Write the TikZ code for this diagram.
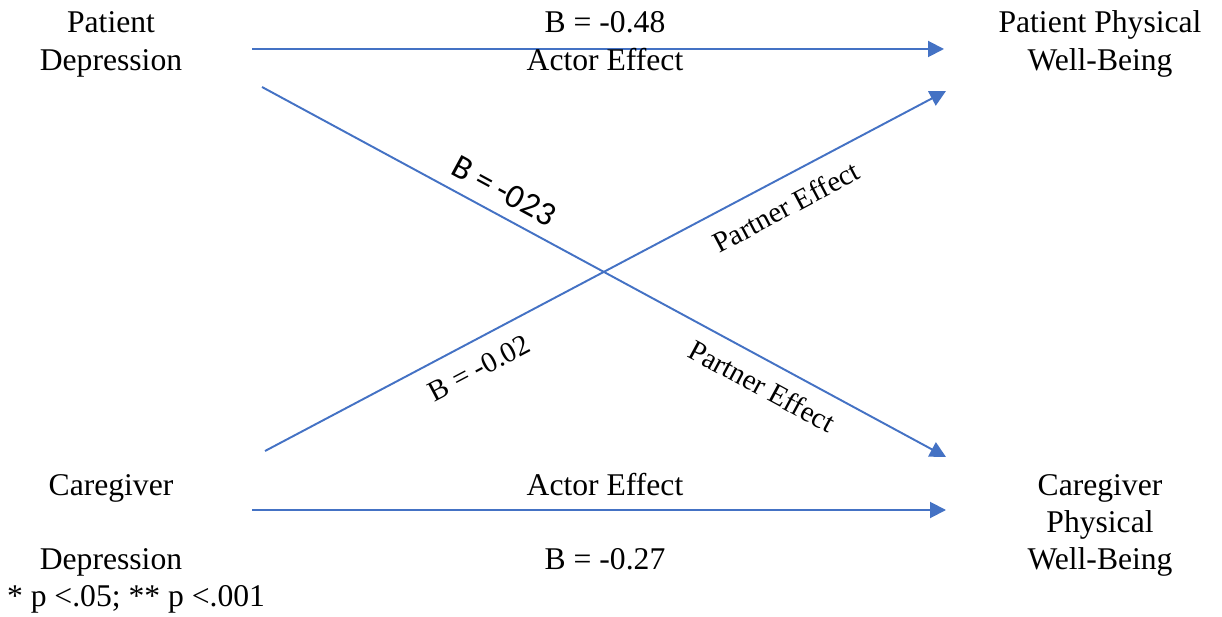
\documentclass[tikz,border=0pt]{standalone}
\usepackage{fontspec}
\setmainfont{Liberation Serif}
\newfontfamily\labelfont{Carlito}
\usetikzlibrary{arrows.meta}
\definecolor{pathblue}{RGB}{68,114,196}

\begin{document}
\begin{tikzpicture}[x=0.02cm,y=-0.02cm,>={Triangle[length=0.32cm,width=0.32cm]},
    every node/.style={font=\fontsize{18}{22}\selectfont,inner sep=0pt},
    txt/.style={anchor=base},
    slanted/.style={font=\fontsize{16.5}{20}\selectfont},
    effect/.style={draw=pathblue,fill=pathblue,line width=1.1pt,->}]
      \useasboundingbox (0,0) rectangle (1222,617);
      % variables
      \node[txt] (pdep1) at (111,33) {Patient};
      \node[txt] (pdep2) at (111,71) {Depression};
      \node[txt] (pwb1) at (1100,33) {Patient Physical};
      \node[txt] (pwb2) at (1100,71) {Well-Being};
      \node[txt] (cdep1) at (111,495) {Caregiver};
      \node[txt] (cdep2) at (111,569) {Depression};
      \node[txt] (note) at (136,606) {* p <.05; ** p <.001};
      \node[txt] (cwb1) at (1100,495) {Caregiver};
      \node[txt] (cwb2) at (1100,532) {Physical};
      \node[txt] (cwb3) at (1100,569) {Well-Being};
      % arrow ends
      \coordinate (pa) at (252,49);
      \coordinate (pb) at (944,49);
      \coordinate (pc) at (262,87);
      \coordinate (pd) at (946,457);
      \coordinate (ca) at (252,510);
      \coordinate (cb) at (946,510);
      \coordinate (cc) at (265,451);
      \coordinate (cd) at (946,91);
      \draw[effect] (pa) -- (pb);
      \draw[effect] (ca) -- (cb);
      \draw[effect] (pc) -- (pd);
      \draw[effect] (cc) -- (cd);
      % labels
      \node[txt] (pact) at (605,33) {B = -0.48};
      \node[txt] (pactl) at (605,71) {Actor Effect};
      \node[txt] (cactl) at (605,495) {Actor Effect};
      \node[txt] (cact) at (605,569) {B = -0.27};
      \node[rotate=-28.4,font=\labelfont\fontsize{19.3}{22}\selectfont] (ppart) at (504,191) {B = -023};
      \node[rotate=-28.4,slanted] (ppartl) at (762,386) {Partner Effect};
      \node[rotate=27.9,slanted] (cpart) at (479,368) {B = -0.02};
      \node[rotate=27.9,slanted] (cpartl) at (786,207) {Partner Effect};
    \end{tikzpicture}
\end{document}
